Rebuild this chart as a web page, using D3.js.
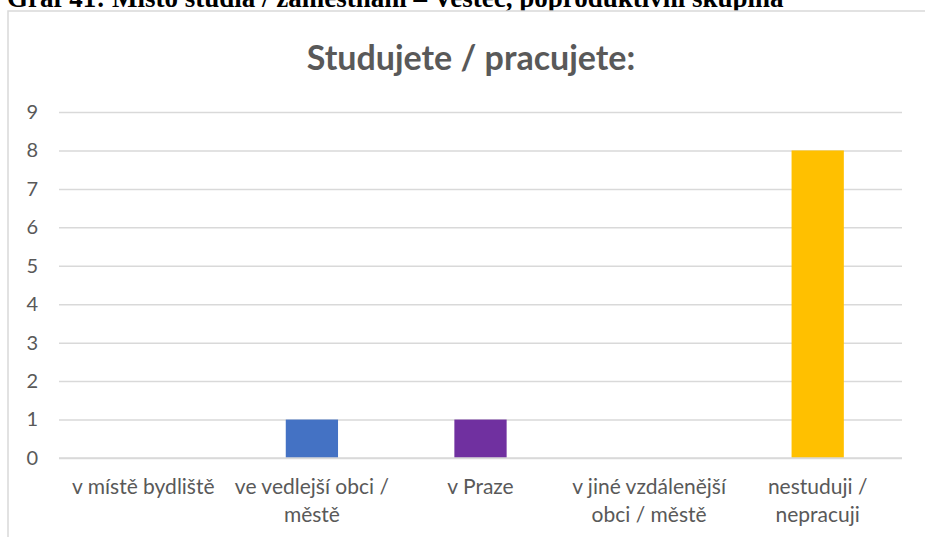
<!DOCTYPE html>
<html>
<head>
<meta charset="utf-8">
<script src="https://cdn.jsdelivr.net/npm/d3@7"></script>
<style>
  html, body { margin: 0; padding: 0; background: #fff; }
  svg { display: block; }
</style>
</head>
<body>
<svg id="chart" width="925" height="537"></svg>
<script>
const pageHeading = "Graf 41: Místo studia / zaměstnání – Vestec, poproduktivní skupina";
const chartTitle = "Studujete / pracujete:";
const categories = ["v místě bydliště", "ve vedlejší obci / městě", "v Praze", "v jiné vzdálenější obci / městě", "nestuduji / nepracuji"];
const categoryLines = [["v místě bydliště"], ["ve vedlejší obci /", "městě"], ["v Praze"], ["v jiné vzdálenější", "obci / městě"], ["nestuduji /", "nepracuji"]];
const values = [0, 1, 1, 0, 8];
const barColors = ["#4472C4", "#4472C4", "#7030A0", "#A5A5A5", "#FFC000"];
const yTicks = [0, 1, 2, 3, 4, 5, 6, 7, 8, 9];

const svg = d3.select("#chart");
const W = 925, H = 537;
const margin = { left: 59, right: 23, top: 112, bottom: 79 };

// page heading (cut off at top, as in the source document)
svg.append("text")
  .attr("x", 7).attr("y", 7)
  .attr("font-family", "'Liberation Serif', 'Times New Roman', serif")
  .attr("font-weight", "bold").attr("font-size", 27)
  .attr("fill", "#000")
  .text(pageHeading);

// chart frame
svg.append("rect")
  .attr("x", 8).attr("y", 11).attr("width", 930).attr("height", 540)
  .attr("fill", "#fff").attr("stroke", "#D9D9D9").attr("stroke-width", 1.5);

const x = d3.scaleBand().domain(categories).range([margin.left, W - margin.right]).paddingInner(0.69).paddingOuter(0.345);
const y = d3.scaleLinear().domain([0, 9]).range([H - margin.bottom, margin.top]);

// title
svg.append("text")
  .attr("x", 471).attr("y", 70)
  .attr("text-anchor", "middle")
  .attr("font-family", "Lato, 'Open Sans', sans-serif")
  .attr("font-weight", "bold").attr("font-size", 34)
  .attr("fill", "#595959")
  .text(chartTitle);

// gridlines + y labels
const yAxis = d3.axisLeft(y).tickValues(yTicks).tickSize(-(W - margin.left - margin.right)).tickPadding(21);
const gy = svg.append("g").attr("transform", `translate(${margin.left},0)`).call(yAxis);
gy.select(".domain").remove();
gy.selectAll(".tick line").attr("stroke", "#D9D9D9").attr("stroke-width", 1.5);
gy.selectAll(".tick text")
  .attr("font-family", "Lato, 'Open Sans', sans-serif")
  .attr("font-size", 20).attr("fill", "#595959");

// bars
svg.append("g").selectAll("rect")
  .data(values)
  .join("rect")
  .attr("x", (d, i) => x(categories[i]))
  .attr("width", x.bandwidth())
  .attr("y", d => y(d))
  .attr("height", d => y(0) - y(d))
  .attr("fill", (d, i) => barColors[i]);

// x axis baseline
svg.append("line")
  .attr("x1", margin.left).attr("x2", W - margin.right)
  .attr("y1", y(0)).attr("y2", y(0))
  .attr("stroke", "#D9D9D9").attr("stroke-width", 1.5);

// category labels
const xl = svg.append("g");
categories.forEach((c, i) => {
  const t = xl.append("text")
    .attr("text-anchor", "middle")
    .attr("font-family", "Lato, 'Open Sans', sans-serif")
    .attr("font-size", 21).attr("fill", "#595959");
  categoryLines[i].forEach((line, j) => {
    t.append("tspan")
      .attr("x", x(c) + x.bandwidth() / 2)
      .attr("y", 494 + j * 28)
      .text(line);
  });
});
</script>
</body>
</html>
